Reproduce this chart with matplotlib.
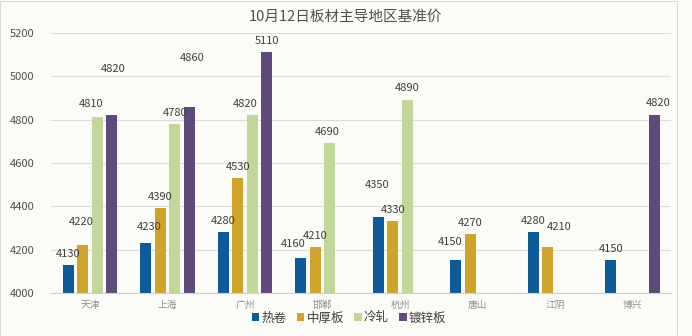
import numpy as np
import matplotlib
matplotlib.use('Agg')
import matplotlib.pyplot as plt
from matplotlib.patches import Rectangle

plt.rcParams['font.family'] = ['Noto Sans CJK SC', 'DejaVu Sans']

cities = ['天津', '上海', '广州', '邯郸', '杭州', '唐山', '江阴', '博兴']
series = ['热卷', '中厚板', '冷轧', '镀锌板']
hot_roll = [4130, 4230, 4280, 4160, 4350, 4150, 4280, 4150]
plate = [4220, 4390, 4530, 4210, 4330, 4270, 4210, None]
cold_roll = [4810, 4780, 4820, 4690, 4890, None, None, None]
galv = [4820, 4860, 5110, None, None, None, None, 4820]

colors = ['#0f5a98', '#cfa42c', '#c4d79b', '#604a7b']
values = [hot_roll, plate, cold_roll, galv]

# label nudges in pixels (dx, dy above bar top), like the excel original
label_shift = {
    (1, 0): (-2, 23), (2, 0): (-6, 13), (3, 0): (1, 46),
    (0, 1): (3, 16), (3, 1): (3, 49),
    (2, 2): (-7, 11),
    (0, 3): (-8, 14), (2, 3): (-2, 11),
    (0, 4): (-1, 32), (2, 4): (0, 12),
    (0, 5): (-6, 18),
    (1, 6): (11, 20),
    (3, 7): (4, 12),
}

fig = plt.figure(figsize=(6.92, 3.36), dpi=100)
fig.patch.set_facecolor('#fbfbf7')
ax = fig.add_axes([51.25 / 692, 0.128, 620 / 692, 0.774])
ax.set_facecolor('#fbfbf7')

x = np.arange(len(cities))
w = 0.142
step = 0.187
for i, (name, vals, c) in enumerate(zip(series, values, colors)):
    idx = [k for k, v in enumerate(vals) if v is not None]
    xs = [x[k] + (i - 1.5) * step for k in idx]
    ys = [vals[k] for k in idx]
    ax.bar(xs, [y - 4000 for y in ys], bottom=4000, width=w, color=c, label=name, zorder=2)
    for k, xx, yy in zip(idx, xs, ys):
        dx, dy = label_shift.get((i, k), (0, 11))
        ax.annotate(str(yy), (xx, yy), xytext=(dx * 0.72, dy * 0.72), textcoords='offset points',
                    ha='center', va='center', fontsize=8, color='#404040', zorder=3)

ax.set_xlim(-0.5, len(cities) - 0.5)
ax.set_ylim(4000, 5200)
ax.set_yticks(range(4000, 5201, 200))
ax.set_xticks(x)
ax.set_xticklabels(cities, fontsize=7, color='#909090')
ax.tick_params(axis='y', labelsize=8, colors='#505050', length=0, pad=12)
ax.tick_params(axis='x', length=0, pad=5)
ax.grid(axis='y', color='#dcdcdc', linewidth=0.8, zorder=0)
for s in ['top', 'right', 'left']:
    ax.spines[s].set_visible(False)
ax.spines['bottom'].set_color('#d0d0d0')

fig.text(346 / 692, 1 - 17 / 336, '10月12日板材主导地区基准价', fontsize=10.5,
         color='#505050', ha='center', va='center')
fig.legend(loc='center', bbox_to_anchor=(349 / 692, 1 - 318 / 336), ncol=4, frameon=False,
           fontsize=9, handlelength=0.6, handleheight=0.6, handletextpad=0.2,
           columnspacing=0.8, labelcolor='#404040')

fig.add_artist(Rectangle((0.0, 0.0), 0.978, 0.997, transform=fig.transFigure,
                         fill=False, edgecolor='#d8d8d8', linewidth=0.8))

fig.savefig('out.png', dpi=100, facecolor=fig.get_facecolor())
